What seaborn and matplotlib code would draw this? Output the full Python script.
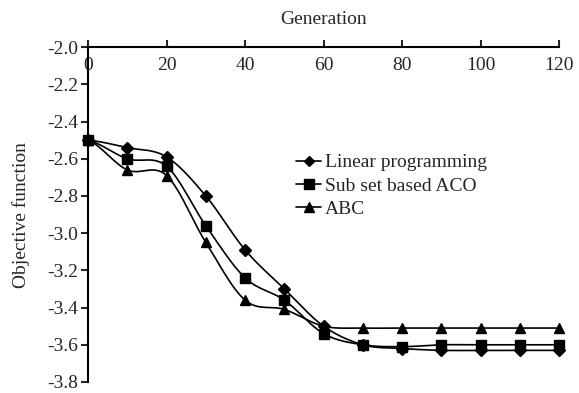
import numpy as np
import pandas as pd
import matplotlib
matplotlib.use("Agg")
import matplotlib.pyplot as plt
from matplotlib.lines import Line2D
import seaborn as sns

# ── data ────────────────────────────────────────────────────────────
generation = [0, 10, 20, 30, 40, 50, 60, 70, 80, 90, 100, 110, 120]
linear_prog = [-2.50, -2.54, -2.59, -2.80, -3.09, -3.30, -3.50, -3.60, -3.62, -3.63, -3.63, -3.63, -3.63]
subset_aco = [-2.50, -2.60, -2.64, -2.96, -3.24, -3.36, -3.54, -3.60, -3.61, -3.60, -3.60, -3.60, -3.60]
abc = [-2.50, -2.66, -2.69, -3.05, -3.36, -3.41, -3.50, -3.51, -3.51, -3.51, -3.51, -3.51, -3.51]

series = {"Linear programming": (linear_prog, "D", 6),
          "Sub set based ACO": (subset_aco, "s", 7.5),
          "ABC": (abc, "^", 7.5)}

x_ticks = [0, 20, 40, 60, 80, 100, 120]
y_ticks = [-2.0, -2.2, -2.4, -2.6, -2.8, -3.0, -3.2, -3.4, -3.6, -3.8]


def smooth(xs, ys, n=30):
    # Catmull-Rom spline through the points (like a "smoothed line" chart)
    xs = np.asarray(xs, float)
    ys = np.asarray(ys, float)
    px = np.concatenate([[2 * xs[0] - xs[1]], xs, [2 * xs[-1] - xs[-2]]])
    py = np.concatenate([[ys[0]], ys, [ys[-1]]])
    out_x, out_y = [], []
    t = np.linspace(0, 1, n, endpoint=False)
    for i in range(1, len(px) - 2):
        for p, o in ((px, out_x), (py, out_y)):
            p0, p1, p2, p3 = p[i - 1], p[i], p[i + 1], p[i + 2]
            o.extend(0.5 * (2 * p1 + (-p0 + p2) * t
                            + (2 * p0 - 5 * p1 + 4 * p2 - p3) * t ** 2
                            + (-p0 + 3 * p1 - 3 * p2 + p3) * t ** 3))
    out_x.append(xs[-1])
    out_y.append(ys[-1])
    return np.array(out_x), np.array(out_y)


sns.set_theme(style="ticks")
plt.rcParams['font.family'] = ['Liberation Serif', 'DejaVu Serif']
plt.rcParams['axes.unicode_minus'] = False
FS = 14

fig = plt.figure(figsize=(5.79, 3.93), dpi=100)
ax = fig.add_axes([0.152, 0.028, 0.814, 0.852])

handles = []
for name, (vals, mk, ms) in series.items():
    sx, sy = smooth(generation, vals)
    curve = pd.DataFrame({"x": sx, "y": sy})
    sns.lineplot(data=curve, x="x", y="y", ax=ax, color="black",
                 linewidth=1.2, sort=False, estimator=None, clip_on=False)
    ax.plot(generation, vals, linestyle="none", marker=mk, markersize=ms,
            color="black", clip_on=False, zorder=3)
    handles.append(Line2D([0], [0], color="black", linewidth=1.2,
                          marker=mk, markersize=ms - 1, label=name))

ax.set_xlim(0, 120)
ax.set_ylim(-3.8, -2.0)
ax.set_xticks(x_ticks)
ax.set_yticks(y_ticks)
ax.set_yticklabels([f"{v:.1f}" for v in y_ticks])

ax.spines['bottom'].set_visible(False)
ax.spines['right'].set_visible(False)
for s in ('top', 'left'):
    ax.spines[s].set_linewidth(1.5)
    ax.spines[s].set_color("black")

ax.xaxis.set_ticks_position('top')
ax.xaxis.set_label_position('top')
ax.tick_params(axis='x', top=True, bottom=False, labeltop=True, labelbottom=False,
               direction='out', length=5, width=1.5, pad=-24, labelsize=FS)
ax.tick_params(axis='y', direction='out', length=5, width=1.5, pad=2, labelsize=FS)

ax.set_xlabel("Generation", fontsize=FS, labelpad=12)
ax.set_ylabel("Objective function", fontsize=FS, labelpad=12)

ax.legend(handles=handles, loc="upper left", bbox_to_anchor=(0.425, 0.705),
          frameon=False, fontsize=FS, handlelength=1.3, handletextpad=0.2,
          labelspacing=0.3, borderaxespad=0)

plt.savefig("out.png", dpi=100)
